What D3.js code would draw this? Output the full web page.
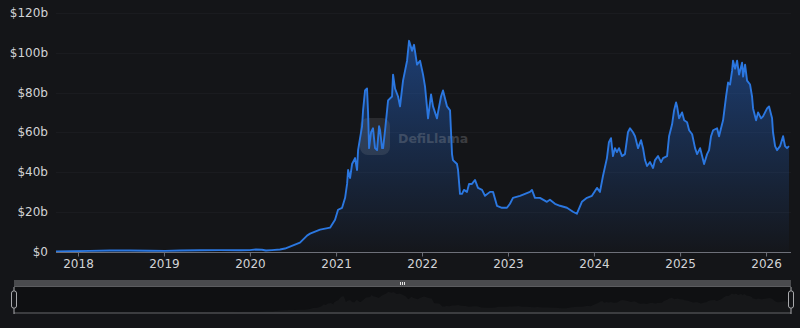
<!DOCTYPE html>
<html>
<head>
<meta charset="utf-8">
<script src="https://cdn.jsdelivr.net/npm/d3@7"></script>
<style>
	html, body { margin: 0; padding: 0; background: #141518; }
	svg { display: block; font-family: "DejaVu Sans", sans-serif; }
</style>
</head>
<body>
<div id="chart"></div>
<script>
// time as decimal years, TVL in billions of USD
const years = [
	2017.744, 2017.907, 2018.140, 2018.372, 2018.605, 2018.837, 2019.012, 2019.186, 2019.419, 2019.651,
	2019.884, 2020.000, 2020.070, 2020.140, 2020.186, 2020.256, 2020.349, 2020.407, 2020.465, 2020.523,
	2020.581, 2020.640, 2020.663, 2020.698, 2020.756, 2020.814, 2020.872, 2020.930, 2020.988, 2021.023,
	2021.070, 2021.105, 2021.128, 2021.140, 2021.163, 2021.186, 2021.221, 2021.244, 2021.256, 2021.279,
	2021.302, 2021.314, 2021.337, 2021.360, 2021.372, 2021.384, 2021.407, 2021.430, 2021.453, 2021.477,
	2021.500, 2021.512, 2021.535, 2021.547, 2021.570, 2021.605, 2021.651, 2021.663, 2021.686, 2021.721,
	2021.744, 2021.779, 2021.826, 2021.849, 2021.884, 2021.907, 2021.942, 2021.977, 2022.012, 2022.035,
	2022.070, 2022.105, 2022.128, 2022.174, 2022.186, 2022.221, 2022.244, 2022.291, 2022.326, 2022.349,
	2022.360, 2022.407, 2022.419, 2022.442, 2022.465, 2022.488, 2022.523, 2022.547, 2022.581, 2022.616,
	2022.651, 2022.698, 2022.733, 2022.791, 2022.826, 2022.872, 2022.930, 2022.988, 2023.023, 2023.058,
	2023.140, 2023.198, 2023.256, 2023.279, 2023.314, 2023.372, 2023.453, 2023.488, 2023.547, 2023.605,
	2023.686, 2023.756, 2023.802, 2023.860, 2023.919, 2023.977, 2024.035, 2024.070, 2024.105, 2024.151,
	2024.174, 2024.198, 2024.221, 2024.244, 2024.267, 2024.291, 2024.326, 2024.360, 2024.395, 2024.419,
	2024.453, 2024.477, 2024.512, 2024.547, 2024.570, 2024.593, 2024.616, 2024.651, 2024.686, 2024.709,
	2024.744, 2024.779, 2024.802, 2024.849, 2024.872, 2024.907, 2024.930, 2024.953, 2024.965, 2024.988,
	2025.023, 2025.047, 2025.081, 2025.105, 2025.140, 2025.174, 2025.198, 2025.233, 2025.256, 2025.279,
	2025.314, 2025.337, 2025.360, 2025.384, 2025.430, 2025.453, 2025.488, 2025.500, 2025.535, 2025.558,
	2025.581, 2025.605, 2025.616, 2025.640, 2025.663, 2025.686, 2025.721, 2025.733, 2025.756, 2025.779,
	2025.814, 2025.837, 2025.849, 2025.884, 2025.907, 2025.942, 2025.965, 2026.012, 2026.035, 2026.070,
	2026.081, 2026.105, 2026.128, 2026.163, 2026.198, 2026.221, 2026.244, 2026.267
];
const tvl = [
	0.05, 0.1, 0.3, 0.5, 0.5, 0.4, 0.3, 0.5, 0.6, 0.7,
	0.6, 0.7, 1.0, 0.9, 0.5, 0.7, 1.0, 1.5, 2.5, 3.5,
	4.5, 7, 8, 9, 10, 11, 11.5, 12, 16, 21,
	22, 27, 34, 41, 37, 44, 47, 41, 51, 57,
	63, 71, 81, 82, 70, 52, 60, 62, 52, 51,
	63, 61, 52, 52, 61, 76, 78, 89, 82, 78,
	73, 86, 96, 106, 101, 104, 94, 96, 89, 83,
	67, 79, 73, 67, 70, 78, 81, 73, 71, 49,
	46, 44, 41, 29, 29, 31, 30, 34, 34, 36,
	32, 31, 28, 30, 30, 23, 22, 22, 24, 27,
	28, 29, 30, 31, 27, 27, 25, 26, 24, 23,
	22, 20, 19, 25, 27, 28, 32, 30, 38, 47,
	55, 57, 48, 52, 50, 52, 48, 49, 60, 62,
	60, 58, 52, 56, 52, 46, 43, 45, 42, 46,
	48, 45, 47, 48, 58, 64, 71, 75, 73, 67,
	70, 66, 65, 61, 59, 52, 49, 52, 48, 44,
	49, 51, 58, 61, 62, 58, 64, 66, 78, 85,
	84, 91, 96, 92, 96, 89, 95, 88, 94, 86,
	84, 78, 72, 66, 70, 67, 68, 72, 73, 67,
	60, 53, 51, 53, 58, 53, 52, 53
];
const yTicks = [0, 20, 40, 60, 80, 100, 120];
const xTickYears = [2018, 2019, 2020, 2021, 2022, 2023, 2024, 2025, 2026];

const width = 800;
const height = 328;

function toDate(y) {
	const yr = Math.floor(y);
	const start = new Date(yr, 0, 1);
	const end = new Date(yr + 1, 0, 1);
	return new Date(+start + (y - yr) * (end - start));
}

const data = years.map((y, i) => ({ date: toDate(y), value: tvl[i] }));

const x = d3.scaleTime()
	.domain(d3.extent(data, (d) => d.date))
	.range([56, 789]);
const y = d3.scaleLinear().domain([0, 120]).range([251.5, 13]);

const svg = d3.select("#chart").append("svg")
	.attr("width", width)
	.attr("height", height);

svg.append("rect")
	.attr("width", width).attr("height", height)
	.attr("fill", "#141518");

const defs = svg.append("defs");
const grad = defs.append("linearGradient")
	.attr("id", "areaGrad")
	.attr("gradientUnits", "userSpaceOnUse")
	.attr("x1", 0).attr("x2", 0)
	.attr("y1", y(110)).attr("y2", y(0));
grad.append("stop").attr("offset", "0%").attr("stop-color", "#2563c4").attr("stop-opacity", 0.55);
grad.append("stop").attr("offset", "100%").attr("stop-color", "#2563c4").attr("stop-opacity", 0.02);

// grid
svg.append("g")
	.selectAll("line")
	.data(yTicks.filter((d) => d > 0)).enter()
	.append("line")
		.attr("x1", 56).attr("x2", 791)
		.attr("y1", (d) => Math.round(y(d)) + 0.5)
		.attr("y2", (d) => Math.round(y(d)) + 0.5)
		.attr("stroke", "#1a1b1f");

// y labels
svg.append("g")
	.selectAll("text")
	.data(yTicks).enter()
	.append("text")
		.attr("x", 48)
		.attr("y", (d) => y(d))
		.attr("dy", "0.35em")
		.attr("text-anchor", "end")
		.attr("font-size", 12)
		.attr("fill", "#d2d3d6")
		.text((d) => d === 0 ? "$0" : `$${d}b`);

// area + line
const area = d3.area()
	.x((d) => x(d.date))
	.y0(y(0))
	.y1((d) => y(d.value));
const line = d3.line()
	.x((d) => x(d.date))
	.y((d) => y(d.value));

svg.append("path")
	.datum(data)
	.attr("d", area)
	.attr("fill", "url(#areaGrad)");

// watermark
const wm = svg.append("g").attr("opacity", 0.28);
wm.append("rect")
	.attr("x", 360).attr("y", 118)
	.attr("width", 30).attr("height", 37)
	.attr("rx", 8)
	.attr("fill", "#9a9ca2")
	.attr("opacity", 0.6);
wm.append("text")
	.attr("x", 398).attr("y", 143)
	.attr("font-size", 12.5)
	.attr("font-weight", "bold")
	.attr("fill", "#a0a3a8")
	.text("DefiLlama");

svg.append("path")
	.datum(data)
	.attr("d", line)
	.attr("fill", "none")
	.attr("stroke", "#2b77e0")
	.attr("stroke-width", 1.9)
	.attr("stroke-linejoin", "round");

// x axis
const xAxis = d3.axisBottom(x)
	.tickValues(xTickYears.map((d) => new Date(d, 0, 1)))
	.tickFormat(d3.timeFormat("%Y"))
	.tickSize(4)
	.tickPadding(3);
const gx = svg.append("g")
	.attr("transform", `translate(0, ${Math.round(y(0)) + 0.5})`)
	.call(xAxis);
gx.select(".domain").attr("stroke", "#6e7079").attr("d", "M56,0H791");
gx.selectAll(".tick line").attr("stroke", "#6e7079");
gx.selectAll(".tick text")
	.attr("fill", "#d2d3d6")
	.attr("font-size", 12)
	.attr("font-family", "DejaVu Sans, sans-serif");

// data zoom slider
const sx0 = 14, sx1 = 791;
const sTop = 287, sBottom = 312;
const xs = d3.scaleTime().domain(x.domain()).range([sx0, sx1]);
const ys = d3.scaleLinear().domain([0, 120]).range([sBottom, sTop + 2]);

svg.append("rect")
	.attr("x", sx0).attr("y", 280)
	.attr("width", sx1 - sx0).attr("height", 7)
	.attr("fill", "#4a4b4e");
svg.append("line")
	.attr("x1", sx0).attr("x2", sx1)
	.attr("y1", 286.5).attr("y2", 286.5)
	.attr("stroke", "#5c5d60");
svg.append("rect")
	.attr("x", sx0).attr("y", sTop)
	.attr("width", sx1 - sx0).attr("height", sBottom - sTop)
	.attr("fill", "#0f1012");
svg.append("path")
	.datum(data)
	.attr("d", d3.area().x((d) => xs(d.date)).y0(sBottom).y1((d) => ys(d.value)))
	.attr("fill", "#161719");
svg.append("rect")
	.attr("x", sx0).attr("y", sBottom)
	.attr("width", sx1 - sx0).attr("height", 2)
	.attr("fill", "#3c3d40");

// center grip
svg.append("g")
	.selectAll("rect")
	.data([0, 1, 2]).enter()
	.append("rect")
		.attr("x", (d) => 400 + d * 2)
		.attr("y", 282)
		.attr("width", 1)
		.attr("height", 3)
		.attr("fill", "#e6e6e6");

// handles
const handles = svg.append("g")
	.selectAll("g")
	.data([sx0, sx1]).enter()
	.append("g")
		.attr("transform", (d) => `translate(${d}, 0)`);
handles.append("line")
	.attr("y1", 287).attr("y2", 314)
	.attr("stroke", "#a8a9ac");
handles.append("rect")
	.attr("x", -2.5).attr("y", 291)
	.attr("width", 5).attr("height", 17)
	.attr("rx", 2)
	.attr("fill", "#141518")
	.attr("stroke", "#a8a9ac");
</script>
</body>
</html>
